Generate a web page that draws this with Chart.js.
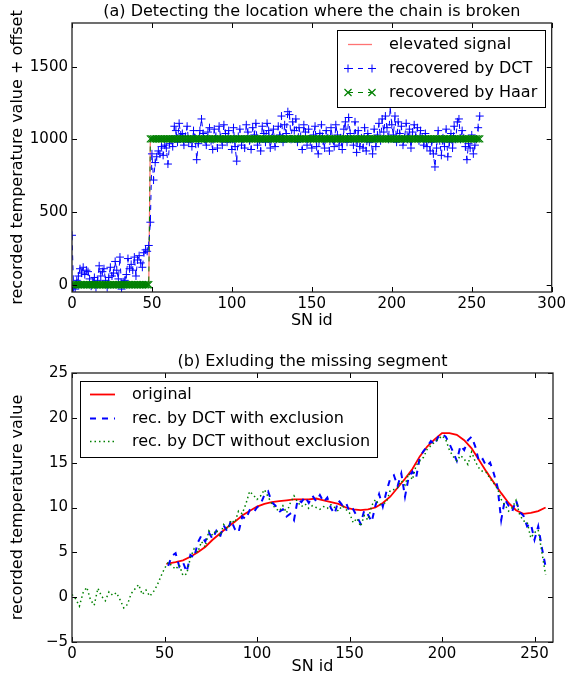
<!DOCTYPE html>
<html>
<head>
<meta charset="utf-8">
<script src="https://cdn.jsdelivr.net/npm/chart.js@4.4.0/dist/chart.umd.min.js"></script>
<style>
  html, body { margin: 0; padding: 0; background: #fff; }
  #wrap { position: relative; width: 569px; height: 679px; }
  #chartA { position: absolute; left: 0; top: 0; }
  #chartB { position: absolute; left: 0; top: 340px; }
</style>
</head>
<body>
<div id="wrap">
  <canvas id="chartA" width="569" height="340"></canvas>
  <canvas id="chartB" width="569" height="339"></canvas>
</div>
<script>
// ---- (a) 체인 끊김 위치 검출 ----
const xTicksA = [0, 50, 100, 150, 200, 250, 300];
const yTicksA = [0, 500, 1000, 1500];

// elevated signal (계단)
const elevX = [0, 48, 49, 255];
const elevY = [0, 0, 1000, 1000];

// recovered by DCT, SN id 0..255
const dctA = [
  340, -20, -30, 30, 60, 110, 80, 120, 70, 100,
  90, 40, -10, 20, 50, -20, 30, 130, 60, 90,
  110, 30, -20, 50, 120, 60, 80, 160, 100, 40,
  190, -30, 20, 30, 70, 180, 110, 140, 100, 190,
  60, 170, 200, 150, 120, 220, 240, 230, 270, 430,
  900, 720, 840, 880, 920, 900, 950, 890, 960, 940,
  830, 970, 1000, 950, 1090, 1060, 980, 1110, 1030, 1040,
  960, 1020, 1090, 980, 1000, 950, 1060, 1010, 860, 970,
  1060, 1140, 1040, 1000, 960, 1050, 1080, 990, 930, 1070,
  1020, 940, 1090, 1010, 960, 1100, 1040, 980, 1060, 1000,
  930, 1080, 950, 850, 1020, 1070, 960, 1000, 940, 1100,
  1050, 990, 930, 1080, 1030, 1110, 960, 1000, 920, 1090,
  1040, 980, 1110, 1060, 940, 1010, 1070, 950, 1000, 1090,
  1030, 1160, 980, 1100, 1040, 1190, 1170, 1000, 1120, 1060,
  1140, 980, 1080, 1020, 930, 1100, 1050, 960, 1070, 990,
  940, 1030, 1090, 950, 900, 1040, 1100, 990, 940, 1060,
  1010, 920, 1080, 1000, 950, 1100, 1030, 960, 1010, 930,
  1070, 1120, 980, 1150, 1040, 1000, 960, 1120, 910, 1060,
  950, 1010, 940, 1080, 920, 1040, 980, 1000, 900, 1070,
  950, 1030, 1110, 990, 1140, 1050, 1160, 1080, 1000, 1220,
  1100, 1030, 1160, 980, 1120, 1040, 1090, 960, 1010, 1110,
  1000, 1070, 940, 1050, 1100, 1020, 1080, 990, 1060, 1010,
  960, 1040, 950, 1000, 920, 980, 900, 810, 940, 1060,
  990, 890, 1010, 950, 1070, 880, 980, 1040, 940, 1090,
  1000, 1120, 1140, 1000, 1060, 1010, 950, 860, 970, 940,
  1030, 900, 960, 1000, 1080, 1160
];

// recovered by Haar: 구간별 상수값
const haarStart = [0, 49];
const haarEnd = [48, 255];
const haarLevel = [0, 1003];

// ---- (b) 누락 구간 제외 ----
const xTicksB = [0, 50, 100, 150, 200, 250];
const yTicksB = [-5, 0, 5, 10, 15, 20, 25];

// original
const origX = [51, 56, 60, 64, 68, 72, 76, 80, 84, 88, 92, 96, 100, 104, 108, 112, 116, 120, 124, 128,
  132, 136, 140, 144, 148, 152, 156, 160, 164, 168, 172, 176, 180, 184, 188, 192, 196, 200, 204, 208,
  212, 216, 220, 224, 228, 232, 236, 240, 244, 248, 252, 256];
const origY = [3.7, 3.9, 4.1, 4.5, 5.0, 5.6, 6.4, 7.1, 7.8, 8.4, 9.1, 9.6, 10.1, 10.4, 10.6, 10.7, 10.8, 10.9, 10.9, 10.9,
  11.0, 10.8, 10.6, 10.4, 10.0, 9.8, 9.7, 9.8, 10.0, 10.5, 11.2, 12.2, 13.2, 14.3, 15.7, 16.8, 17.6, 18.3, 18.3, 18.1,
  17.5, 16.6, 15.3, 14.0, 12.8, 11.6, 10.5, 9.7, 9.3, 9.4, 9.6, 10.0];

// rec. by DCT with exclusion: SN id 52, 54, ... 256
const exclFirstId = 52;
const exclStep = 2;
const dctExcl = [
  3.5, 4.6, 4.9, 3.4, 3.9, 2.8, 4.7, 4.4, 6.1, 6.9,
  6.2, 7.2, 6.5, 7.4, 6.7, 8.0, 7.3, 8.6, 7.6, 7.2,
  9.0, 8.7, 9.7, 9.4, 10.0, 10.4, 11.4, 11.8, 10.6, 10.2,
  9.5, 9.8, 9.0, 9.3, 8.6, 10.9, 10.6, 11.2, 10.5, 11.3,
  10.7, 11.4, 10.6, 11.1, 9.9, 9.3, 10.8, 10.3, 10.6, 9.5,
  9.8, 9.0, 8.2, 9.7, 9.2, 8.4, 10.2, 11.5, 10.1, 11.8,
  13.2, 13.6, 12.4, 13.8, 11.2, 13.4, 14.0, 13.3, 15.6, 16.3,
  16.8, 17.4, 17.0, 17.9, 18.2, 17.9, 17.1, 16.2, 15.2, 16.9,
  16.4, 17.5, 17.9, 16.8, 15.1, 15.4, 14.6, 15.0, 13.8, 12.3,
  8.6, 10.9, 10.2, 9.6, 10.8, 9.5, 9.1, 7.9, 8.2, 6.4,
  7.9, 5.5, 3.4
];

// rec. by DCT without exclusion: SN id 0, 2, ... 256
const noExclFirstId = 0;
const noExclStep = 2;
const dctNoExcl = [
  0.3, -0.2, -1.0, 0.5, 1.1, -0.3, -0.9, 1.0, 0.1, -0.4,
  0.6, 0.2, 0.5, -0.3, -1.2, -0.8, 0.4, 0.9, 1.4, 0.3,
  0.8, 0.1, 0.6, 1.3, 2.3, 3.2, 3.9, 3.5, 3.1, 3.6,
  2.4, 2.6, 4.4, 5.4, 5.0, 6.2, 5.6, 7.4, 6.9, 7.5,
  6.8, 8.1, 7.6, 8.6, 8.3, 9.6, 9.3, 10.4, 11.8, 11.4,
  10.9, 11.3, 12.0, 11.2, 10.4, 9.9, 9.6, 10.2, 9.4, 10.5,
  11.3, 10.6, 10.1, 10.4, 9.9, 10.2, 10.0, 9.8, 10.1, 9.9,
  10.3, 10.0, 9.6, 10.2, 9.8, 9.4, 8.3, 8.8, 7.9, 9.1,
  8.6, 10.2, 10.9, 10.3, 10.4, 10.6, 11.9, 12.0, 12.2, 13.0,
  12.5, 13.8, 13.1, 14.7, 15.2, 15.6, 16.5, 16.9, 17.3, 17.6,
  18.0, 17.6, 16.4, 15.7, 15.2, 15.8, 15.4, 14.8, 16.2, 15.1,
  14.4, 14.0, 13.9, 13.2, 12.7, 12.1, 10.9, 10.3, 9.6, 10.0,
  10.8, 9.2, 8.5, 8.4, 6.6, 7.2, 7.5, 5.0, 2.5
];

const FONT = '"DejaVu Sans", "Liberation Sans", sans-serif';

function toPoints(xs, ys) {
  return ys.map((y, i) => ({ x: xs[i], y: y }));
}

function stepPoints(first, step, ys) {
  return ys.map((y, i) => ({ x: first + i * step, y: y }));
}

function haarPoints() {
  const pts = [];
  haarStart.forEach((s, k) => {
    for (let id = s; id <= haarEnd[k]; id++) pts.push({ x: id, y: haarLevel[k] });
  });
  return pts;
}

function fmtTick(v) {
  return v < 0 ? '\u2212' + Math.abs(v) : String(v);
}

// 플롯 영역 위 가운데 제목
const plotTitle = {
  id: 'plotTitle',
  afterDraw(chart, args, o) {
    const { ctx, chartArea: a } = chart;
    ctx.save();
    ctx.fillStyle = '#000';
    ctx.font = o.size + 'px ' + FONT;
    ctx.textAlign = 'center';
    ctx.textBaseline = 'middle';
    ctx.fillText(o.text, (a.left + a.right) / 2, o.y);
    ctx.restore();
  }
};

// 플롯 영역 테두리 + 안쪽 눈금
const frameTicks = {
  id: 'frameTicks',
  afterDatasetsDraw(chart) {
    const { ctx, chartArea: a, scales } = chart;
    const len = 5;
    ctx.save();
    ctx.strokeStyle = '#000';
    ctx.lineWidth = 1;
    ctx.beginPath();
    scales.x.ticks.forEach(t => {
      const p = Math.round(scales.x.getPixelForValue(t.value)) + 0.5;
      ctx.moveTo(p, a.bottom); ctx.lineTo(p, a.bottom - len);
      ctx.moveTo(p, a.top); ctx.lineTo(p, a.top + len);
    });
    scales.y.ticks.forEach(t => {
      const p = Math.round(scales.y.getPixelForValue(t.value)) + 0.5;
      ctx.moveTo(a.left, p); ctx.lineTo(a.left + len, p);
      ctx.moveTo(a.right, p); ctx.lineTo(a.right - len, p);
    });
    ctx.stroke();
    ctx.lineWidth = 1.3;
    ctx.strokeStyle = '#222';
    ctx.strokeRect(a.left, a.top, a.right - a.left, a.bottom - a.top);
    ctx.restore();
  }
};

function drawMark(ctx, style, x, y, r) {
  ctx.beginPath();
  if (style === 'cross') {
    ctx.moveTo(x - r, y); ctx.lineTo(x + r, y);
    ctx.moveTo(x, y - r); ctx.lineTo(x, y + r);
  } else if (style === 'crossRot') {
    const d = r * 0.7071;
    ctx.moveTo(x - d, y - d); ctx.lineTo(x + d, y + d);
    ctx.moveTo(x - d, y + d); ctx.lineTo(x + d, y - d);
  }
  ctx.stroke();
}

// 박스 범례 (플롯 안쪽)
const boxLegend = {
  id: 'boxLegend',
  afterDraw(chart, args, o) {
    const ctx = chart.ctx;
    ctx.save();
    ctx.fillStyle = '#fff';
    ctx.fillRect(o.x, o.y, o.w, o.h);
    ctx.strokeStyle = '#000';
    ctx.lineWidth = 1;
    ctx.strokeRect(o.x + 0.5, o.y + 0.5, o.w, o.h);
    ctx.font = '16px ' + FONT;
    ctx.textBaseline = 'middle';
    chart.data.datasets.forEach((ds, i) => {
      const y = Math.round(o.y + o.first + i * o.step) + 0.5;
      const x0 = o.x + o.lineFrom, x1 = o.x + o.lineTo;
      ctx.strokeStyle = ds.borderColor;
      ctx.lineWidth = ds.borderWidth;
      ctx.setLineDash(ds.borderDash || []);
      ctx.beginPath();
      ctx.moveTo(x0, y); ctx.lineTo(x1, y);
      ctx.stroke();
      ctx.setLineDash([]);
      if (ds.pointRadius > 0) {
        ctx.lineWidth = ds.pointBorderWidth || 1;
        drawMark(ctx, ds.pointStyle, x0, y, ds.pointRadius);
        drawMark(ctx, ds.pointStyle, x1, y, ds.pointRadius);
      }
      ctx.fillStyle = '#000';
      ctx.fillText(ds.label, o.x + o.textX, y);
    });
    ctx.restore();
  }
};

function scaleOpts(min, max, tickList, title, fitSize, tickPad, titlePad, isY) {
  return {
    type: 'linear',
    min: min,
    max: max,
    afterBuildTicks: s => { s.ticks = tickList.map(v => ({ value: v })); },
    afterFit: s => { if (isY) s.width = fitSize; else s.height = fitSize; },
    grid: { display: false, drawTicks: false },
    border: { display: false },
    ticks: {
      color: '#000',
      font: { family: FONT, size: 15 },
      padding: tickPad,
      maxRotation: 0,
      autoSkip: false,
      callback: fmtTick
    },
    title: {
      display: true,
      text: title,
      color: '#000',
      font: { family: FONT, size: 16 },
      padding: titlePad
    }
  };
}

Chart.defaults.animation = false;

new Chart(document.getElementById('chartA'), {
  type: 'line',
  data: {
    datasets: [
      {
        label: 'elevated signal',
        data: toPoints(elevX, elevY),
        borderColor: 'rgba(255,0,0,0.55)',
        borderWidth: 1.3,
        pointRadius: 0,
        order: 3
      },
      {
        label: 'recovered by DCT',
        data: dctA.map((y, i) => ({ x: i, y: y })),
        borderColor: '#0000ff',
        borderWidth: 1,
        borderDash: [5, 5],
        pointStyle: 'cross',
        pointRadius: 4,
        pointBorderWidth: 1,
        pointBorderColor: '#0000ff',
        order: 2
      },
      {
        label: 'recovered by Haar',
        data: haarPoints(),
        borderColor: '#008000',
        borderWidth: 1,
        borderDash: [5, 5],
        pointStyle: 'crossRot',
        pointRadius: 5,
        pointBorderWidth: 1.2,
        pointBorderColor: '#008000',
        order: 1
      }
    ]
  },
  options: {
    responsive: false,
    clip: 0,
    layout: { padding: { left: 0, right: 16, top: 23, bottom: 0 } },
    elements: { line: { tension: 0 } },
    plugins: {
      legend: { display: false },
      tooltip: { enabled: false },
      title: { display: false },
      plotTitle: { text: '(a) Detecting the location where the chain is broken', y: 12, size: 16 },
      boxLegend: { x: 337, y: 30, w: 208, h: 77, first: 14, step: 24, lineFrom: 11, lineTo: 35, textX: 52 }
    },
    scales: {
      x: scaleOpts(0, 300, xTicksA, 'SN id', 48, 3, { top: 0, bottom: 10 }, false),
      y: scaleOpts(-50, 1800, yTicksA, 'recorded temperature value + offset', 72, 4, { top: 8, bottom: 0 }, true)
    }
  },
  plugins: [frameTicks, boxLegend, plotTitle]
});

new Chart(document.getElementById('chartB'), {
  type: 'line',
  data: {
    datasets: [
      {
        label: 'original',
        data: toPoints(origX, origY),
        borderColor: '#ff0000',
        borderWidth: 1.8,
        pointRadius: 0,
        order: 3
      },
      {
        label: 'rec. by DCT with exclusion',
        data: stepPoints(exclFirstId, exclStep, dctExcl),
        borderColor: '#0000ff',
        borderWidth: 2,
        borderDash: [6, 6],
        pointRadius: 0,
        order: 2
      },
      {
        label: 'rec. by DCT without exclusion',
        data: stepPoints(noExclFirstId, noExclStep, dctNoExcl),
        borderColor: '#008000',
        borderWidth: 1.5,
        borderDash: [1.5, 3],
        pointRadius: 0,
        order: 1
      }
    ]
  },
  options: {
    responsive: false,
    clip: 0,
    layout: { padding: { left: 0, right: 16, top: 33, bottom: 0 } },
    elements: { line: { tension: 0 } },
    plugins: {
      legend: { display: false },
      tooltip: { enabled: false },
      title: { display: false },
      plotTitle: { text: '(b) Exluding the missing segment', y: 22, size: 16 },
      boxLegend: { x: 80, y: 41, w: 297, h: 76, first: 13, step: 23.5, lineFrom: 10, lineTo: 35, textX: 52 }
    },
    scales: {
      x: scaleOpts(0, 260, xTicksB, 'SN id', 37, 3, { top: 0, bottom: 3 }, false),
      y: scaleOpts(-5, 25, yTicksB, 'recorded temperature value', 72, 4, { top: 8, bottom: 0 }, true)
    }
  },
  plugins: [frameTicks, boxLegend, plotTitle]
});
</script>
</body>
</html>
